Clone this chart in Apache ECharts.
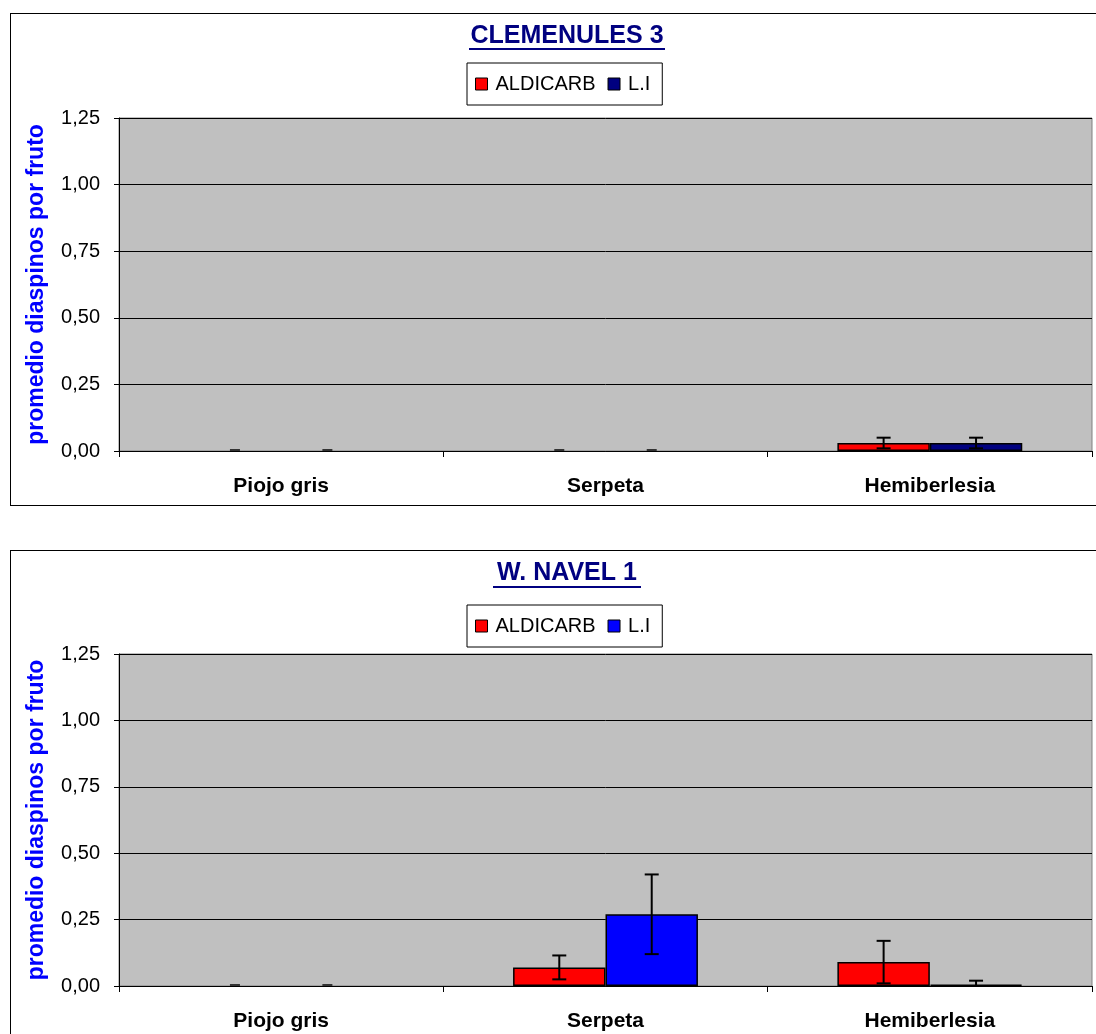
<!DOCTYPE html>
<html>
<head>
<meta charset="utf-8">
<script src="https://cdn.jsdelivr.net/npm/echarts@6/dist/echarts.min.js"></script>
<style>
  html, body { margin: 0; padding: 0; width: 1096px; height: 1034px; overflow: hidden; background: #fff; }
  .frame { position: absolute; border: 1px solid #000; box-sizing: border-box; }
  .chart { position: absolute; left: 0; width: 1096px; }
</style>
</head>
<body>
<div class="frame" style="left:10px; top:13px; width:1200px; height:493px;"></div>
<div class="frame" style="left:10px; top:550px; width:1200px; height:600px;"></div>
<div id="c1" class="chart" style="top:0; height:520px;"></div>
<div id="c2" class="chart" style="top:530px; height:504px;"></div>
<script>
// Categories and tick values
const categories = ['Piojo gris', 'Serpeta', 'Hemiberlesia'];
const yTicks = [0, 0.25, 0.5, 0.75, 1.0, 1.25];

// CLEMENULES 3 – mean diaspids per fruit and error
const clemAldicarb = [0, 0, 0.03];
const clemAldicarbErr = [0, 0, 0.02];
const clemLI = [0, 0, 0.03];
const clemLIErr = [0, 0, 0.02];

// W. NAVEL 1 – mean diaspids per fruit and error
const navelAldicarb = [0, 0.07, 0.09];
const navelAldicarbErr = [0, 0.045, 0.08];
const navelLI = [0, 0.27, 0.005];
const navelLIErr = [0, 0.15, 0.015];

const FONT = '"Liberation Sans", Arial, sans-serif';
const CAT_GAP = 0.43;

// empty bars get no outline, only their error cap is visible
function barData(values) {
  return values.map(v => v === 0 ? { value: v, itemStyle: { borderWidth: 0 } } : v);
}

function errorSeries(values, errs, side) {
  return {
    type: 'custom',
    z: 5,
    silent: true,
    data: values.map((v, i) => [i, v, errs[i]]),
    encode: { x: 0, y: 1 },
    renderItem(params, api) {
      const i = api.value(0), v = api.value(1), e = api.value(2);
      const band = api.size([1, 0])[0];
      const barW = band * (1 - CAT_GAP) / 2;
      const x = api.coord([i, v])[0] + side * barW / 2;
      const top = api.coord([i, v + e])[1];
      const bot = api.coord([i, Math.max(0, v - e)])[1];
      const st = { stroke: '#000', lineWidth: 2 };
      if (e === 0) {
        return { type: 'line', shape: { x1: x - 5, y1: top - 1, x2: x + 5, y2: top - 1 }, style: { stroke: '#333', lineWidth: 2 } };
      }
      return {
        type: 'group',
        children: [
          { type: 'line', shape: { x1: x, y1: top, x2: x, y2: bot }, style: st },
          { type: 'line', shape: { x1: x - 7, y1: top, x2: x + 7, y2: top }, style: st },
          { type: 'line', shape: { x1: x - 7, y1: bot, x2: x + 7, y2: bot }, style: st }
        ]
      };
    }
  };
}

function buildOption(cfg) {
  return {
    animation: false,
    graphic: [
      {
        type: 'text', z: 10,
        style: {
          text: cfg.title, x: 567, y: cfg.titleY, textAlign: 'center', textVerticalAlign: 'middle',
          font: 'bold 25px ' + FONT, fill: '#000080'
        }
      },
      {
        type: 'line', z: 10,
        shape: { x1: cfg.ulX1, y1: cfg.ulY, x2: cfg.ulX2, y2: cfg.ulY },
        style: { stroke: '#000080', lineWidth: 2 }
      }
    ],
    legend: {
      left: 467, top: cfg.legendTop,
      padding: [11, 12, 11, 8],
      itemGap: 12,
      itemWidth: 12, itemHeight: 12,
      icon: 'rect',
      borderColor: '#000', borderWidth: 1,
      backgroundColor: '#fff',
      textStyle: { fontFamily: FONT, fontSize: 20, color: '#000', padding: [0, 0, 0, 3] },
      itemStyle: { borderColor: '#000', borderWidth: 1 },
      data: ['ALDICARB', 'L.I']
    },
    grid: {
      left: 119, top: cfg.gridTop, width: 973, height: cfg.gridH,
      show: true, backgroundColor: '#c0c0c0', borderColor: '#808080', borderWidth: 1
    },
    xAxis: {
      type: 'category', data: categories,
      axisLine: { lineStyle: { color: '#000', width: 1 } },
      axisTick: { show: true, length: 6, lineStyle: { color: '#000' } },
      axisLabel: { fontFamily: FONT, fontSize: 21, fontWeight: 'bold', color: '#000', margin: 25 }
    },
    yAxis: {
      type: 'value', min: yTicks[0], max: yTicks[yTicks.length - 1], interval: 0.25,
      name: 'promedio diaspinos por fruto',
      nameLocation: 'middle', nameRotate: 90, nameGap: 71,
      nameTextStyle: { fontFamily: FONT, fontSize: 23, fontWeight: 'bold', color: '#0000ff' },
      axisLine: { show: true, lineStyle: { color: '#000', width: 1 } },
      axisTick: { show: true, length: 5, lineStyle: { color: '#000' } },
      axisLabel: {
        fontFamily: FONT, fontSize: 20, color: '#000', margin: 19,
        formatter: v => v.toFixed(2).replace('.', ',')
      },
      splitLine: { show: true, lineStyle: { color: '#000', width: 1 } }
    },
    series: [
      {
        name: 'ALDICARB', type: 'bar', data: barData(cfg.a), barGap: '0%', barCategoryGap: (CAT_GAP * 100) + '%',
        itemStyle: { color: '#ff0000', borderColor: '#000', borderWidth: 1.5 }
      },
      {
        name: 'L.I', type: 'bar', data: barData(cfg.b), barGap: '0%', barCategoryGap: (CAT_GAP * 100) + '%',
        itemStyle: { color: cfg.liColor, borderColor: '#000', borderWidth: 1.5 }
      },
      errorSeries(cfg.a, cfg.aErr, -1),
      errorSeries(cfg.b, cfg.bErr, 1)
    ]
  };
}

const chart1 = echarts.init(document.getElementById('c1'));
chart1.setOption(buildOption({
  title: 'CLEMENULES 3', titleY: 36, ulX1: 469, ulX2: 665, ulY: 49,
  legendTop: 63, gridTop: 118, gridH: 333,
  a: clemAldicarb, aErr: clemAldicarbErr, b: clemLI, bErr: clemLIErr, liColor: '#000080'
}));

const chart2 = echarts.init(document.getElementById('c2'));
chart2.setOption(buildOption({
  title: 'W. NAVEL 1', titleY: 43, ulX1: 493, ulX2: 641, ulY: 57,
  legendTop: 75, gridTop: 124, gridH: 332,
  a: navelAldicarb, aErr: navelAldicarbErr, b: navelLI, bErr: navelLIErr, liColor: '#0000ff'
}));
</script>
</body>
</html>
